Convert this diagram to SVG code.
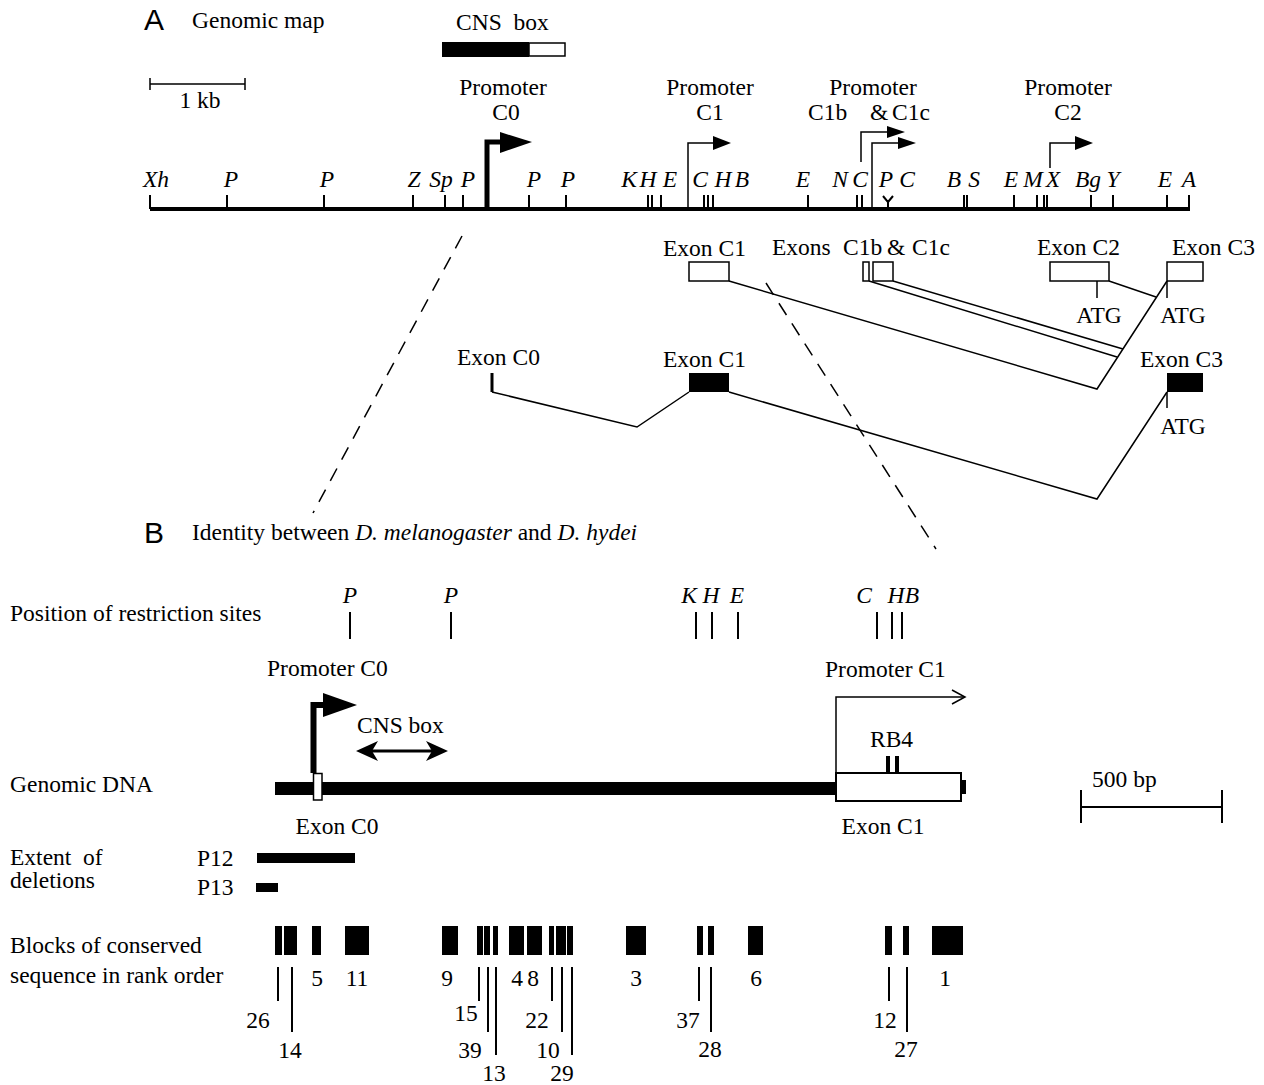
<svg xmlns="http://www.w3.org/2000/svg" width="1264" height="1085" viewBox="0 0 1264 1085">
<style>
.t{font-family:"Liberation Serif","Times New Roman",serif;font-size:23.5px;fill:#000}
.i{font-style:italic}
.m{text-anchor:middle}
.s{font-family:"Liberation Sans",Arial,sans-serif;font-size:30px;fill:#000}
.ln{stroke:#000;stroke-width:1.5;fill:none}
.tk{stroke:#000;stroke-width:2;fill:none}
.ob{fill:#fff;stroke:#000;stroke-width:1.5}
.dash{stroke:#000;stroke-width:1.5;fill:none;stroke-dasharray:14 10}
</style>
<rect width="1264" height="1085" fill="#fff"/>

<!-- Panel A headers -->
<g id="panelA-title">
<text class="s" x="144" y="30">A</text>
<text class="t" x="192" y="28">Genomic map</text>
</g>
<g id="cns-box-A">
<text class="t" x="456" y="30" style="white-space:pre">CNS  box</text>
<rect x="442" y="42" width="87" height="15" fill="#000"/>
<rect x="529" y="43" width="36" height="13" class="ob"/>
</g>
<g id="scale-1kb">
<path class="ln" d="M150,84H245M150,78V90M245,78V90"/>
<text class="t m" x="200" y="108">1 kb</text>
</g>

<!-- Genomic map line -->
<g id="genomic-map">
<line x1="150" y1="209" x2="1190" y2="209" stroke="#000" stroke-width="4"/>
<path class="tk" d="M150,195V209M227,195V209M324,195V209M413,195V209M445,195V209M463,195V209M529,195V209M566,195V209M648,195V209M652,195V209M661,195V209M704,195V209M708,195V209M713,195V209M808,195V209M857,195V209M862,195V209M964,195V209M967,195V209M1014,195V209M1037,195V209M1044,195V209M1047,195V209M1091,195V209M1113,195V209M1167,195V209M1189,195V209M888,209V202L883,196M888,202L893,196"/>
<g class="t i">
<text x="143" y="187">Xh</text>
<text class="m" x="231" y="187">P</text>
<text class="m" x="327" y="187">P</text>
<text class="m" x="414" y="187">Z</text>
<text class="m" x="441" y="187">Sp</text>
<text class="m" x="468" y="187">P</text>
<text class="m" x="534" y="187">P</text>
<text class="m" x="568" y="187">P</text>
<text class="m" x="629" y="187">K</text>
<text class="m" x="648" y="187">H</text>
<text class="m" x="670" y="187">E</text>
<text class="m" x="700" y="187">C</text>
<text class="m" x="723" y="187">H</text>
<text class="m" x="742" y="187">B</text>
<text class="m" x="803" y="187">E</text>
<text class="m" x="840" y="187">N</text>
<text class="m" x="860" y="187">C</text>
<text class="m" x="886" y="187">P</text>
<text class="m" x="907" y="187">C</text>
<text class="m" x="954" y="187">B</text>
<text class="m" x="974" y="187">S</text>
<text class="m" x="1011" y="187">E</text>
<text class="m" x="1033" y="187">M</text>
<text class="m" x="1053" y="187">X</text>
<text class="m" x="1088" y="187">Bg</text>
<text class="m" x="1113" y="187">Y</text>
<text class="m" x="1165" y="187">E</text>
<text class="m" x="1189" y="187">A</text>
</g>
</g>

<!-- Promoters on map -->
<g id="promoter-C0-A">
<text class="t m" x="503" y="95">Promoter</text>
<text class="t m" x="506" y="120">C0</text>
<path d="M487,209V142H500" stroke="#000" stroke-width="5" fill="none"/>
<polygon points="500,132 532,142 500,153" fill="#000"/>
</g>
<g id="promoter-C1-A">
<text class="t m" x="710" y="95">Promoter</text>
<text class="t m" x="710" y="120">C1</text>
<path class="ln" d="M688,209V143H714"/>
<polygon points="713,136 731,143 713,150" fill="#000"/>
</g>
<g id="promoter-C1b-C1c-A">
<text class="t m" x="873" y="95">Promoter</text>
<text class="t" y="120"><tspan x="808">C1b</tspan><tspan x="870">&amp;</tspan><tspan x="892">C1c</tspan></text>
<path class="ln" d="M861,162V132H888M872,209V143H899"/>
<polygon points="887,126 905,132 887,138" fill="#000"/>
<polygon points="898,137 916,143 898,149" fill="#000"/>
</g>
<g id="promoter-C2-A">
<text class="t m" x="1068" y="95">Promoter</text>
<text class="t m" x="1068" y="120">C2</text>
<path class="ln" d="M1050,168V143H1076"/>
<polygon points="1075,136 1093,143 1075,150" fill="#000"/>
</g>

<!-- Exons upper row -->
<g id="exon-C1-top">
<text class="t" x="663" y="256">Exon C1</text>
<rect x="689" y="262" width="40" height="19" class="ob"/>
</g>
<g id="exons-C1b-C1c-top">
<text class="t" y="255"><tspan x="772">Exons</tspan><tspan x="843">C1b</tspan><tspan x="887">&amp;</tspan><tspan x="912">C1c</tspan></text>
<rect x="863" y="262" width="6" height="19" class="ob"/>
<rect x="873" y="262" width="20" height="19" class="ob"/>
</g>
<g id="exon-C2-top">
<text class="t" x="1037" y="255">Exon C2</text>
<rect x="1050" y="262" width="59" height="19" class="ob"/>
<line class="ln" x1="1097" y1="281" x2="1097" y2="298"/>
<text class="t m" x="1099" y="323">ATG</text>
</g>
<g id="exon-C3-top">
<text class="t" x="1172" y="255">Exon C3</text>
<rect x="1167" y="262" width="36" height="19" class="ob"/>
<line class="ln" x1="1167" y1="281" x2="1167" y2="298"/>
<text class="t m" x="1183" y="323">ATG</text>
</g>

<!-- Exons lower row -->
<g id="exon-C0-low">
<text class="t" x="457" y="365">Exon C0</text>
<line x1="492" y1="373" x2="492" y2="392" stroke="#000" stroke-width="3"/>
</g>
<g id="exon-C1-low">
<text class="t" x="663" y="367">Exon C1</text>
<rect x="689" y="373" width="40" height="19" fill="#000"/>
</g>
<g id="exon-C3-low">
<text class="t" x="1140" y="367">Exon C3</text>
<rect x="1167" y="373" width="36" height="19" fill="#000"/>
<line class="ln" x1="1167" y1="392" x2="1167" y2="408"/>
<text class="t m" x="1183" y="434">ATG</text>
</g>

<!-- Connectors -->
<g id="connectors">
<polyline class="ln" points="729,281 1097,389 1167,281"/>
<line class="ln" x1="869" y1="281" x2="1117" y2="357"/>
<line class="ln" x1="893" y1="281" x2="1123" y2="349"/>
<line class="ln" x1="1109" y1="281" x2="1156" y2="297"/>
<polyline class="ln" points="492,392 637,427 689,392"/>
<polyline class="ln" points="729,392 1097,499 1167,392"/>
<line class="dash" x1="462" y1="236" x2="313" y2="513"/>
<line class="dash" x1="766" y1="283" x2="936" y2="549"/>
</g>

<!-- Panel B -->
<g id="panelB-title">
<text class="s" x="144" y="543">B</text>
<text class="t" x="192" y="540">Identity between <tspan class="i">D. melanogaster</tspan> and <tspan class="i">D. hydei</tspan></text>
</g>
<g id="restriction-sites-B">
<text class="t" x="10" y="621">Position of restriction sites</text>
<g class="t i">
<text class="m" x="350" y="603">P</text>
<text class="m" x="451" y="603">P</text>
<text class="m" x="689" y="603">K</text>
<text class="m" x="711" y="603">H</text>
<text class="m" x="737" y="603">E</text>
<text class="m" x="864" y="603">C</text>
<text class="m" x="896" y="603">H</text>
<text class="m" x="912" y="603">B</text>
</g>
<path class="tk" d="M350,612V639M451,612V639M696,612V639M712,612V639M738,612V639M877,612V639M892,612V639M902,612V639"/>
</g>

<g id="promoter-C0-B">
<text class="t" x="267" y="676">Promoter C0</text>
<path d="M313.5,773V705H324" stroke="#000" stroke-width="6" fill="none"/>
<polygon points="323,693 357,705 323,717" fill="#000"/>
</g>
<g id="cns-box-B">
<text class="t" x="357" y="733">CNS box</text>
<line x1="362" y1="751" x2="442" y2="751" stroke="#000" stroke-width="3"/>
<path d="M356,751L378,741L372,751L378,761Z" fill="#000"/>
<path d="M448,751L426,741L432,751L426,761Z" fill="#000"/>
</g>
<g id="genomic-dna">
<text class="t" x="10" y="792">Genomic DNA</text>
<rect x="275" y="782" width="561" height="13" fill="#000"/>
<rect x="313.5" y="773.5" width="8.5" height="26.5" class="ob"/>
<text class="t m" x="337" y="834">Exon C0</text>
</g>
<g id="promoter-C1-B">
<text class="t" x="825" y="677">Promoter C1</text>
<path class="ln" d="M836,773V697H964"/>
<path class="ln" d="M952,690L965,697L952,704"/>
</g>
<g id="exon-C1-B">
<text class="t" x="870" y="747">RB4</text>
<rect x="886" y="756" width="4" height="17" fill="#000"/>
<rect x="895" y="756" width="4" height="17" fill="#000"/>
<rect x="961" y="780" width="5" height="14" fill="#000"/>
<rect x="836" y="773" width="125" height="28" fill="#fff" stroke="#000" stroke-width="2"/>
<text class="t m" x="883" y="834">Exon C1</text>
</g>
<g id="scale-500bp">
<path class="tk" d="M1081,807H1222M1081,790V823M1222,790V823"/>
<text class="t" x="1092" y="787">500 bp</text>
</g>
<g id="deletions">
<text class="t" x="10" y="865" style="white-space:pre">Extent  of</text>
<text class="t" x="10" y="888">deletions</text>
<text class="t" x="197" y="866">P12</text>
<text class="t" x="197" y="895">P13</text>
<rect x="257" y="853" width="98" height="10" fill="#000"/>
<rect x="256" y="883" width="22" height="9" fill="#000"/>
</g>
<g id="conserved-blocks">
<text class="t" x="10" y="953">Blocks of conserved</text>
<text class="t" x="10" y="983">sequence in rank order</text>
<g fill="#000">
<rect x="275" y="926" width="7" height="29"/>
<rect x="284" y="926" width="13" height="29"/>
<rect x="312" y="926" width="9" height="29"/>
<rect x="345" y="926" width="24" height="29"/>
<rect x="442" y="926" width="16" height="29"/>
<rect x="477" y="926" width="6" height="29"/>
<rect x="484" y="926" width="6" height="29"/>
<rect x="493" y="926" width="5" height="29"/>
<rect x="509" y="926" width="15" height="29"/>
<rect x="527" y="926" width="15" height="29"/>
<rect x="549" y="926" width="5" height="29"/>
<rect x="556" y="926" width="10" height="29"/>
<rect x="567" y="926" width="6" height="29"/>
<rect x="626" y="926" width="20" height="29"/>
<rect x="697" y="926" width="6" height="29"/>
<rect x="708" y="926" width="6" height="29"/>
<rect x="748" y="926" width="15" height="29"/>
<rect x="885" y="926" width="7" height="29"/>
<rect x="903" y="926" width="6" height="29"/>
<rect x="932" y="926" width="31" height="29"/>
</g>
<path class="tk" d="M278,967V1001M292,967V1032M479,967V1001M488,967V1032M496,967V1055M552,967V1001M562,967V1032M572,967V1055M699,967V1001M711,967V1032M889,967V1001M907,967V1032"/>
<g class="t m">
<text x="317" y="986">5</text>
<text x="357" y="986">11</text>
<text x="447" y="986">9</text>
<text x="517" y="986">4</text>
<text x="533" y="986">8</text>
<text x="636" y="986">3</text>
<text x="756" y="986">6</text>
<text x="945" y="986">1</text>
<text x="258" y="1028">26</text>
<text x="290" y="1058">14</text>
<text x="466" y="1021">15</text>
<text x="470" y="1058">39</text>
<text x="494" y="1081">13</text>
<text x="537" y="1028">22</text>
<text x="548" y="1058">10</text>
<text x="562" y="1081">29</text>
<text x="688" y="1028">37</text>
<text x="710" y="1057">28</text>
<text x="885" y="1028">12</text>
<text x="906" y="1057">27</text>
</g>
</g>
</svg>
